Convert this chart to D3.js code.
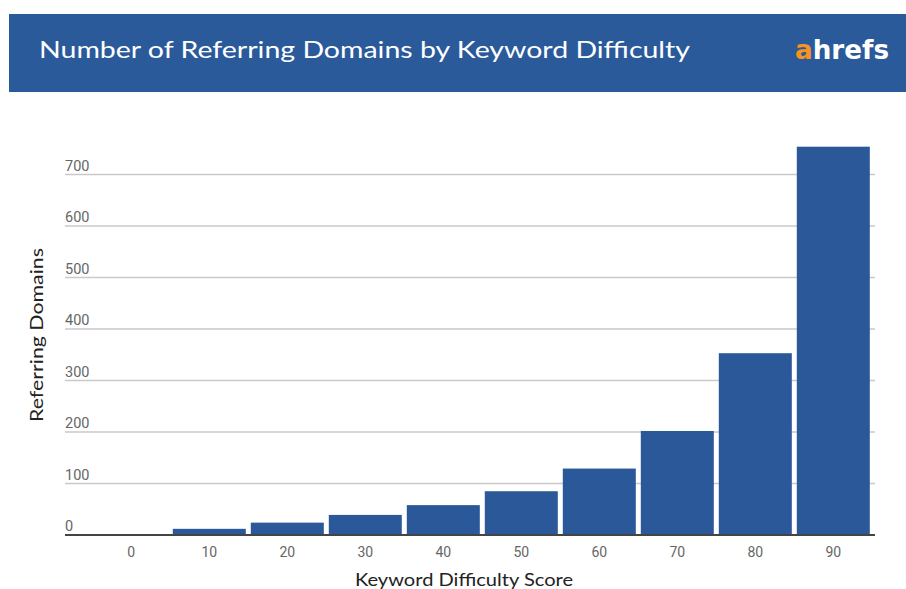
<!DOCTYPE html>
<html>
<head>
<meta charset="utf-8">
<script src="https://cdn.jsdelivr.net/npm/d3@7"></script>
<style>
  body { margin: 0; background: #fff; }
  svg { display: block; }
</style>
</head>
<body>
<div id="chart"></div>
<script>
// chart data
var categories = ["0", "10", "20", "30", "40", "50", "60", "70", "80", "90"];
var domains = [0, 12, 24, 39, 58, 85, 129, 202, 353, 754];
var yTicks = [0, 100, 200, 300, 400, 500, 600, 700];

var title = "Number of Referring Domains by Keyword Difficulty";
var xTitle = "Keyword Difficulty Score";
var yTitle = "Referring Domains";

function draw(){
    var width = 906, height = 589;
    var blue = "#2a5899";

    var svg = d3.select("#chart")
        .append("svg")
        .attr("width", width)
        .attr("height", height);

    // header band
    svg.append("rect")
        .attr("x", 9).attr("y", 14)
        .attr("width", width - 9).attr("height", 78)
        .attr("fill", "#2b5a9b");

    svg.append("text")
        .attr("x", 39).attr("y", 58)
        .attr("fill", "#fff")
        .attr("font-family", "Lato, 'Noto Sans', sans-serif")
        .attr("font-size", 23)
        .attr("textLength", 651)
        .attr("lengthAdjust", "spacingAndGlyphs")
        .text(title);

    // logo
    var logo = svg.append("text")
        .attr("x", 795).attr("y", 59)
        .attr("font-family", "'Liberation Sans Narrow', 'DejaVu Sans Condensed', sans-serif")
        .attr("font-weight", "bold")
        .attr("font-size", 26)
        .attr("textLength", 94)
        .attr("lengthAdjust", "spacingAndGlyphs");
    logo.append("tspan").attr("fill", "#f7941d").text("a");
    logo.append("tspan").attr("fill", "#fff").text("hrefs");

    // scales
    var x = d3.scaleBand()
        .domain(categories)
        .range([92.3, 872.3])
        .paddingInner(0.064)
        .paddingOuter(0.032);

    var y = d3.scaleLinear()
        .domain([0, 700])
        .range([535, 174.5]);

    // gridlines + y labels
    var grid = svg.append("g");
    grid.selectAll("line")
        .data(yTicks.filter(function(d){ return d > 0; }))
        .enter().append("line")
            .attr("x1", 65).attr("x2", 875)
            .attr("y1", function(d){ return y(d); })
            .attr("y2", function(d){ return y(d); })
            .attr("stroke", "#c9c9c9")
            .attr("stroke-width", 1.5);

    grid.selectAll("text")
        .data(yTicks)
        .enter().append("text")
            .attr("x", 65)
            .attr("y", function(d){ return y(d) - 4; })
            .attr("fill", "#666")
            .attr("font-family", "Roboto, sans-serif")
            .attr("font-size", 14.5)
            .text(function(d){ return d; });

    // bars
    svg.selectAll(".bar")
        .data(domains)
        .enter().append("rect")
            .attr("class", "bar")
            .attr("x", function(d, i){ return x(categories[i]); })
            .attr("width", x.bandwidth())
            .attr("y", function(d){ return y(d); })
            .attr("height", function(d){ return y(0) - y(d); })
            .attr("fill", blue);

    // baseline
    svg.append("line")
        .attr("x1", 65).attr("x2", 875)
        .attr("y1", y(0)).attr("y2", y(0))
        .attr("stroke", "#444")
        .attr("stroke-width", 2);

    // x axis labels
    var xAxis = svg.append("g")
        .attr("transform", "translate(0," + y(0) + ")")
        .call(d3.axisBottom(x).tickSize(0).tickPadding(12));
    xAxis.select(".domain").remove();
    xAxis.selectAll("text")
        .attr("fill", "#666")
        .attr("font-family", "Roboto, sans-serif")
        .attr("font-size", 14);

    // axis titles
    svg.append("text")
        .attr("x", 464).attr("y", 586)
        .attr("text-anchor", "middle")
        .attr("fill", "#222")
        .attr("font-family", "Lato, sans-serif")
        .attr("font-size", 17)
        .attr("textLength", 218)
        .attr("lengthAdjust", "spacingAndGlyphs")
        .text(xTitle);

    svg.append("text")
        .attr("transform", "translate(43,335) rotate(-90)")
        .attr("text-anchor", "middle")
        .attr("fill", "#222")
        .attr("font-family", "Lato, sans-serif")
        .attr("font-size", 17)
        .attr("textLength", 174)
        .attr("lengthAdjust", "spacingAndGlyphs")
        .text(yTitle);
}

draw();
</script>
</body>
</html>
